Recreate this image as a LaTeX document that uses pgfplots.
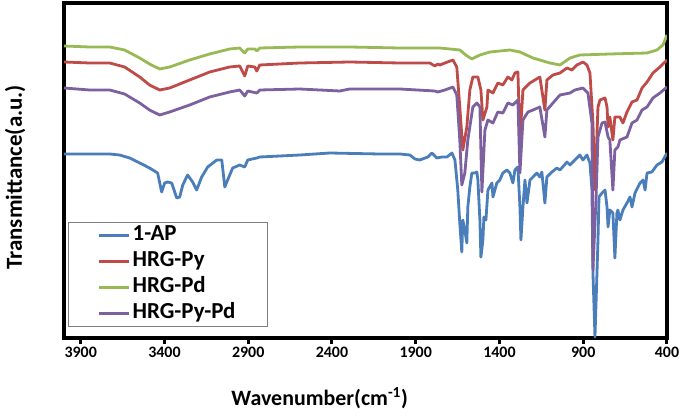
\documentclass[border=0pt]{standalone}
\usepackage{pgfplots}
\pgfplotsset{compat=1.18}
\usepackage{fontspec}
\setmainfont{Carlito}
\definecolor{cblue}{HTML}{4A7EBB}
\definecolor{cred}{HTML}{BE4B48}
\definecolor{cgreen}{HTML}{98B954}
\definecolor{cpurple}{HTML}{7D60A0}
\begin{document}
\begin{tikzpicture}
\begin{axis}[
  scale only axis, width=603bp, height=335bp,
  xmin=400, xmax=4000, ymin=0, ymax=335, x dir=reverse,
  xtick={400,900,...,3900}, ytick=\empty,
  axis line style={line width=3.5bp, black},
  tick align=outside, xtick pos=left, major tick length=6bp,
  every tick/.style={black, line width=3bp},
  xticklabel style={font=\fontsize{16}{19}\selectfont\bfseries,
    /pgf/number format/1000 sep={}, /pgf/number format/assume math mode=true},
  xlabel={Wavenumber(cm\textsuperscript{-1})},
  ylabel={Transmittance(a.u.)},
  xlabel style={font=\fontsize{22}{26}\selectfont\bfseries, at={(axis description cs:0.424,-0.179)}, anchor=center},
  ylabel style={font=\fontsize{23}{27}\selectfont\bfseries, at={(axis description cs:-0.081,0.48)}, anchor=center},
  legend cell align=left,
  legend image code/.code={\draw[#1] (0bp,0bp) -- (30bp,0bp);},
  legend style={at={(axis description cs:0,0)}, anchor=south west, xshift=4bp, yshift=11bp,
    draw=gray, line width=0.8bp, font=\fontsize{23}{27}\selectfont\bfseries,
    inner xsep=29bp, inner ysep=0bp, row sep=0bp, column sep=0bp,
    nodes={inner xsep=2.5bp, inner ysep=1bp, text height=17bp, text depth=7bp}},
  every axis plot/.append style={line width=2.8bp, line join=round},
  clip=true,
]
\coordinate (sw) at (rel axis cs:0,0);
% 1-AP
\addplot[cblue] coordinates {
(4000,184)(3847,184)(3727,184)(3668,183)(3608,180)(3548,175)(3489,170)(3441,165)
(3417,146)(3399,155)(3381,156)(3357,155)(3327,140)(3309,141)(3291,153)(3262,163)
(3232,156)(3208,148)(3178,161)(3142,171)(3088,178)(3058,178)(3040,151)(3023,158)
(2993,170)(2951,173)(2921,171)(2903,178)(2849,180)(2831,181)(2592,183)(2413,185)
(2115,184)(1995,184)(1935,183)(1905,179)(1876,178)(1828,181)(1804,185)(1774,180)
(1744,181)(1714,181)(1684,185)(1666,178)(1649,148)(1637,115)(1625,86)(1619,118)
(1607,108)(1595,95)(1589,131)(1577,151)(1565,165)(1547,165)(1535,166)(1529,158)
(1517,118)(1511,81)(1499,98)(1493,121)(1481,118)(1469,148)(1445,155)(1439,141)
(1416,155)(1398,158)(1380,165)(1356,168)(1338,165)(1320,155)(1308,168)(1290,171)
(1278,131)(1272,98)(1260,131)(1248,158)(1236,135)(1218,158)(1200,161)(1177,165)
(1159,161)(1147,166)(1129,135)(1117,161)(1087,166)(1057,170)(1039,168)(997,176)
(979,173)(950,178)(920,183)(902,178)(878,183)(860,175)(848,148)(842,65)(830,1)
(818,65)(812,98)(806,141)(788,145)(770,148)(758,131)(752,111)(741,128)(723,125)
(711,80)(699,125)(693,128)(681,118)(663,128)(639,135)(621,141)(609,131)(591,145)
(561,155)(543,158)(531,148)(519,165)(490,166)(460,173)(430,176)(400,185)
};
\addlegendentry{1-AP}
% HRG-Py
\addplot[cred] coordinates {
(4000,276)(3847,275)(3727,275)(3638,271)(3548,261)(3489,253)(3429,248)(3369,250)
(3250,258)(3130,266)(3011,271)(2951,272)(2921,262)(2903,272)(2861,271)(2849,267)
(2831,273)(2592,275)(2294,276)(1995,275)(1816,275)(1786,272)(1768,274)(1756,273)
(1726,275)(1678,278)(1655,271)(1637,231)(1619,188)(1595,211)(1577,248)(1559,261)
(1529,261)(1511,248)(1499,218)(1475,231)(1469,248)(1439,245)(1410,255)(1380,253)
(1350,261)(1326,258)(1308,265)(1290,266)(1278,198)(1260,248)(1218,255)(1189,258)
(1159,261)(1129,228)(1117,258)(1081,263)(1039,265)(997,270)(968,268)(938,273)
(902,276)(878,273)(860,265)(842,215)(830,148)(812,231)(800,238)(770,240)(758,231)
(752,211)(741,221)(723,198)(711,221)(681,221)(663,215)(639,226)(609,236)(579,238)
(549,250)(519,256)(484,265)(442,271)(400,278)
};
\addlegendentry{HRG-Py}
% HRG-Pd
\addplot[cgreen] coordinates {
(4000,292)(3847,291)(3727,291)(3638,288)(3548,280)(3489,274)(3429,269)(3369,271)
(3250,278)(3130,284)(3011,289)(2951,290)(2921,285)(2903,289)(2861,289)(2849,287)
(2831,290)(2592,291)(2294,291)(1995,290)(1756,290)(1637,288)(1601,283)(1565,279)
(1517,283)(1457,286)(1338,288)(1278,286)(1200,280)(1099,275)(1039,273)(979,280)
(920,283)(741,284)(519,285)(460,288)(424,293)(400,303)
};
\addlegendentry{HRG-Pd}
% HRG-Py-Pd
\addplot[cpurple] coordinates {
(4000,250)(3847,248)(3727,248)(3638,244)(3548,235)(3489,228)(3429,223)(3369,226)
(3250,233)(3130,241)(3011,246)(2951,248)(2921,242)(2903,247)(2849,245)(2831,248)
(2592,249)(2353,247)(2294,249)(1995,249)(1786,247)(1768,246)(1726,248)(1678,251)
(1655,243)(1637,198)(1625,153)(1607,165)(1589,198)(1559,231)(1535,235)(1517,231)
(1505,146)(1487,208)(1469,218)(1439,215)(1410,226)(1380,225)(1350,235)(1320,233)
(1290,238)(1278,165)(1260,218)(1230,226)(1200,228)(1159,231)(1129,201)(1117,228)
(1081,235)(1039,243)(979,245)(950,248)(902,250)(872,245)(848,215)(842,68)(824,138)
(812,201)(788,215)(770,216)(752,201)(741,198)(723,148)(711,188)(693,191)(681,198)
(639,201)(609,215)(579,218)(549,228)(519,231)(484,240)(442,245)(400,251)
};
\addlegendentry{HRG-Py-Pd}
\end{axis}
\pgfresetboundingbox
\path[use as bounding box] (sw) ++(-64bp,-82bp) rectangle ++(685bp,420bp);
\end{tikzpicture}
\end{document}
